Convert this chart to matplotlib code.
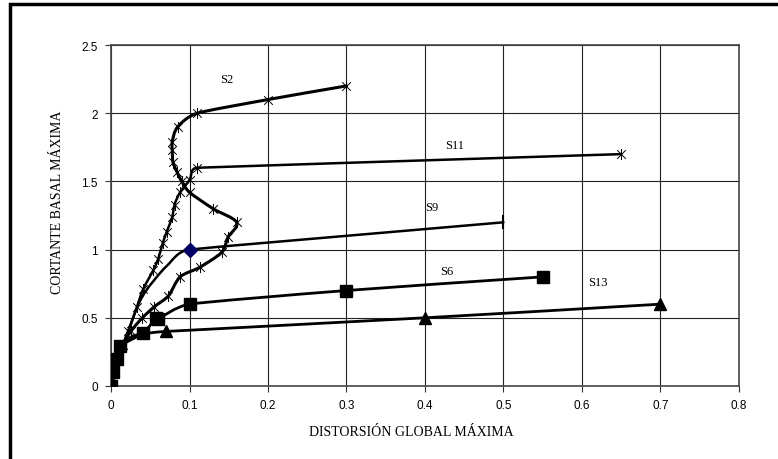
import numpy as np
import matplotlib
matplotlib.use("Agg")
import matplotlib.pyplot as plt
from matplotlib.path import Path
from matplotlib.patches import Rectangle, PathPatch


# series (distorsion, cortante)
s2_x = [0, 0.005, 0.01, 0.015, 0.025, 0.04, 0.055, 0.073, 0.088, 0.113, 0.141,
        0.149, 0.16, 0.13, 0.1, 0.09, 0.084, 0.079, 0.078, 0.078, 0.085, 0.11, 0.2, 0.3]
s2_y = [0, 0.1, 0.2, 0.3, 0.4, 0.5, 0.58, 0.66, 0.8, 0.87, 0.98,
        1.09, 1.2, 1.3, 1.42, 1.5, 1.57, 1.64, 1.73, 1.79, 1.9, 2.0, 2.1, 2.2]

s11_x = [0, 0.005, 0.01, 0.015, 0.022, 0.033, 0.041, 0.054, 0.06, 0.066, 0.071,
         0.078, 0.081, 0.088, 0.1, 0.11, 0.65]
s11_y = [0, 0.1, 0.2, 0.3, 0.4, 0.58, 0.71, 0.85, 0.93, 1.05, 1.13,
         1.24, 1.33, 1.42, 1.51, 1.6, 1.7]

s9_x = [0, 0.005, 0.01, 0.015, 0.025, 0.035, 0.046, 0.071, 0.1, 0.5]
s9_y = [0, 0.1, 0.2, 0.3, 0.45, 0.6, 0.71, 0.88, 1.0, 1.2]

s6_x = [0, 0.003, 0.007, 0.011, 0.041, 0.057, 0.06, 0.1, 0.3, 0.55]
s6_y = [0, 0.1, 0.2, 0.29, 0.39, 0.5, 0.49, 0.6, 0.7, 0.8]

s13_x = [0, 0.005, 0.01, 0.015, 0.03, 0.07, 0.4, 0.7]
s13_y = [0, 0.1, 0.2, 0.3, 0.37, 0.4, 0.5, 0.6]

labels = ["S2", "S11", "S9", "S6", "S13"]
label_x = [0.148, 0.438, 0.409, 0.428, 0.62]
label_y = [2.25, 1.77, 1.31, 0.84, 0.76]

xticks = [0, 0.1, 0.2, 0.3, 0.4, 0.5, 0.6, 0.7, 0.8]
yticks = [0, 0.5, 1, 1.5, 2, 2.5]

# asterisk marker like the spreadsheet one (x plus a vertical bar)
star = Path([(-1, -1), (1, 1), (-1, 1), (1, -1), (0, -1.3), (0, 1.3)],
            [Path.MOVETO, Path.LINETO, Path.MOVETO, Path.LINETO, Path.MOVETO, Path.LINETO])

serif = "Liberation Serif"
sans = "Liberation Sans"


def smooth_line(ax, xs, ys, lw):
    # spreadsheet-style smoothed line: bezier segments through the data points,
    # handles worked out in axes units and kept short so nothing overshoots
    x0, x1 = ax.get_xlim()
    y0, y1 = ax.get_ylim()
    sx, sy = 1.0 / (x1 - x0), 1.0 / (y1 - y0)
    p = np.column_stack([np.asarray(xs) * sx, np.asarray(ys) * sy])
    n = len(p)
    seg = [np.hypot(*(p[i + 1] - p[i])) for i in range(n - 1)]
    tang, hand = [], []
    for i in range(n):
        d = p[min(i + 1, n - 1)] - p[max(i - 1, 0)]
        tang.append(d / (np.hypot(*d) or 1.0))
        near = [seg[j] for j in (i - 1, i) if 0 <= j < n - 1]
        hand.append(min(near) / 3)
    verts = [p[0]]
    codes = [Path.MOVETO]
    for i in range(n - 1):
        verts += [p[i] + tang[i] * hand[i], p[i + 1] - tang[i + 1] * hand[i + 1], p[i + 1]]
        codes += [Path.CURVE4] * 3
    verts = np.array(verts) / [sx, sy]
    ax.add_patch(PathPatch(Path(verts, codes), fill=False, edgecolor="black",
                           lw=lw, capstyle="round", joinstyle="round", zorder=3))


fig = plt.figure(figsize=(7.78, 4.6), dpi=100)
ax = fig.add_axes([0.1427, 0.1587, 0.807, 0.7413])
ax.set_xlim(0, 0.8)
ax.set_ylim(0, 2.5)

smooth_line(ax, s2_x, s2_y, 2.2)
ax.plot(s2_x, s2_y, ls="none", marker=star, ms=8, mew=0.7, mec="black", zorder=4)
smooth_line(ax, s11_x, s11_y, 1.8)
ax.plot(s11_x, s11_y, ls="none", marker=star, ms=8, mew=0.7, mec="black", zorder=4)
smooth_line(ax, s9_x, s9_y, 1.8)
ax.plot(s9_x[-2:-1], s9_y[-2:-1], ls="none", marker="D", ms=7,
        color="#000066", zorder=4)
ax.plot(s9_x[-1:], s9_y[-1:], ls="none", marker="|", ms=10, mew=1.5,
        color="black", zorder=4)
smooth_line(ax, s6_x, s6_y, 2)
ax.plot(s6_x, s6_y, ls="none", marker="s", ms=9, color="black", zorder=4)
smooth_line(ax, s13_x, s13_y, 2)
ax.plot(s13_x[-3:], s13_y[-3:], ls="none", marker="^", ms=9,
        color="black", zorder=4)

for lab, lx, ly in zip(labels, label_x, label_y):
    ax.text(lx, ly, lab, fontsize=9, family=serif, ha="center", va="center")

ax.set_xticks(xticks)
ax.set_xticklabels([f"{v:g}" for v in xticks], fontsize=8.5, family=sans)
ax.set_yticks(yticks)
ax.set_yticklabels([f"{v:g}" for v in yticks], fontsize=8.5, family=sans)
ax.tick_params(direction="out", length=4.5, width=0.8, color="#333333", pad=5)
ax.grid(True, color="#222222", lw=0.8)
ax.set_axisbelow(True)
for sp in ax.spines.values():
    sp.set_color("#444444")
    sp.set_linewidth(1.2)

ax.set_xlabel("DISTORSIÓN GLOBAL MÁXIMA", fontsize=10, family=serif)
ax.set_ylabel("CORTANTE BASAL MÁXIMA", fontsize=10, family=serif)
ax.xaxis.set_label_coords(0.479, -0.114)
ax.yaxis.set_label_coords(-0.075, 0.541)

# thick outer frame, cut at the right and bottom like the picture
fig.patches.append(Rectangle((0.0125, -0.2), 1.2, 1.189, transform=fig.transFigure,
                             fill=False, edgecolor="black", lw=2.5, clip_on=False))

fig.savefig("out.png", dpi=100)
